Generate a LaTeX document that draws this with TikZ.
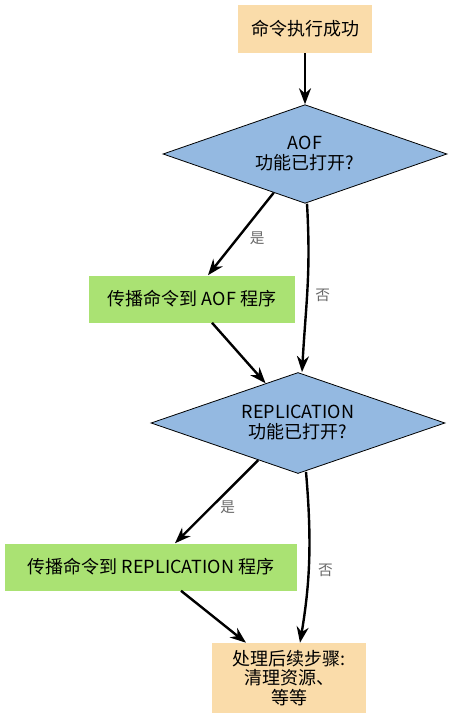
\documentclass[tikz,border=0pt]{standalone}
\usepackage{fontspec}
\newfontfamily\cjk{Noto Sans CJK SC}
\usetikzlibrary{arrows.meta, calc, shapes.geometric}

\definecolor{startcol}{RGB}{250,220,170}
\definecolor{testcol}{RGB}{148,185,225}
\definecolor{actcol}{RGB}{170,226,115}
\definecolor{notecol}{RGB}{105,105,105}

\begin{document}
\begin{tikzpicture}[x=0.75pt, y=-0.75pt, >={Stealth[length=12pt,width=9pt]},
  box/.style={rectangle, inner sep=0pt, align=center, font=\cjk\fontsize{13.5}{15}\selectfont},
  startbox/.style={box, fill=startcol},
  actbox/.style={box, fill=actcol},
  test/.style={diamond, aspect=2.9, draw=black, line width=0.6pt, fill=testcol, inner sep=0pt, align=center, font=\cjk\fontsize{13.5}{15}\selectfont},
  flow/.style={->, line width=1.8pt},
  answer/.style={text=notecol, font=\cjk\fontsize{11}{13}\selectfont}]
  \useasboundingbox (0,0) rectangle (452,720);

  % steps
  \node[startbox, minimum width=100.5pt, minimum height=36pt] (start) at (305,29) {命令执行成功};
  \node[test, minimum width=213pt, minimum height=74pt] (aofq) at (305,154) {AOF\\功能已打开?};
  \node[actbox, minimum width=154.5pt, minimum height=35.25pt] (aof) at (192,299) {传播命令到 AOF 程序};
  \node[test, minimum width=220.5pt, minimum height=75.75pt] (replq) at (298,423) {REPLICATION\\功能已打开?};
  \node[actbox, minimum width=219pt, minimum height=35.25pt] (repl) at (151,567) {传播命令到 REPLICATION 程序};
  \node[startbox, minimum width=115pt, minimum height=52.5pt, font=\cjk\fontsize{13.5}{14.5}\selectfont] (done) at (289,678) {处理后续步骤:\\清理资源、\\等等};

  % connectors
  \draw[flow] (start) -- (aofq);
  \draw[flow] ($(aofq.south)!0.22!(aofq.west)$) -- ($(aof.north)+(16,0)$)
    node[answer, pos=0.55, right=5pt] {是};
  \draw[flow] ($(aofq.south)+(2,0)$) .. controls +(4,70) and +(4,-70) .. ($(replq.north)+(4,0)$)
    node[answer, pos=0.55, right=2pt] {否};
  \draw[flow] ($(aof.south)+(20,0)$) -- ($(replq.north)!0.22!(replq.west)$);
  \draw[flow] ($(replq.south)!0.27!(replq.west)$) -- ($(repl.north)+(24,0)$)
    node[answer, pos=0.57, right=3pt] {是};
  \draw[flow] ($(replq.south)+(8,-2)$) .. controls +(6,70) and +(10,-60) .. ($(done.north)+(11,0)$)
    node[answer, pos=0.56, right=3pt] {否};
  \draw[flow] ($(repl.south)+(30,0)$) -- ($(done.north)+(-43,0)$);
\end{tikzpicture}
\end{document}
